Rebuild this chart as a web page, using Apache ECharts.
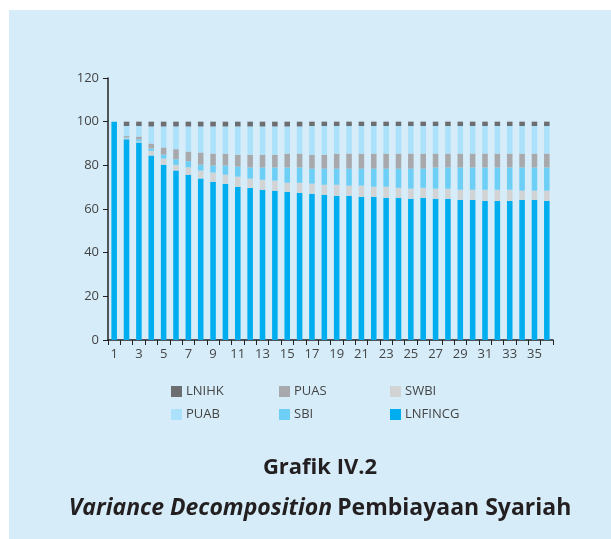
<!DOCTYPE html>
<html lang="id">
<head>
<meta charset="UTF-8">
<title>Grafik IV.2 - Variance Decomposition Pembiayaan Syariah</title>
<script src="https://cdn.jsdelivr.net/npm/echarts@6/dist/echarts.min.js"></script>
<style>
  html, body { margin: 0; padding: 0; background: #ffffff; }
  #panel { position: absolute; left: 9px; top: 10px; width: 602px; height: 529px; background: #d6edf9; }
  #main { position: absolute; left: 0; top: 0; width: 611px; height: 539px; }
</style>
</head>
<body>
<div id="panel"></div>
<div id="main"></div>
<script type="text/javascript">
// periode 1..36
const periods = Array.from({ length: 36 }, (_, i) => String(i + 1));

// share of each shock (%), stacked from bottom to top
const lnfincg = [100, 91.9, 90.5, 84.5, 80.3, 77.6, 75.7, 74.0, 72.5, 71.6, 70.2, 69.7, 68.8, 68.4, 67.9, 67.4,
  67.0, 66.5, 66.1, 66.1, 65.6, 65.6, 65.1, 65.1, 64.7, 65.1, 64.7, 64.7, 64.2, 64.2, 63.7, 63.7, 63.7, 64.2, 64.2, 63.7];
const swbi = [0, 0.4, 0.5, 2.1, 2.8, 2.6, 3.4, 3.6, 4.2, 4.1, 4.6, 4.2, 4.6, 4.6, 4.1, 4.6,
  4.6, 4.6, 5.0, 4.6, 5.1, 4.6, 5.1, 4.6, 4.6, 4.6, 4.6, 4.6, 4.6, 4.6, 5.1, 5.1, 5.1, 4.2, 4.2, 4.7];
const sbi = [0, 0.4, 0.9, 1.1, 1.8, 2.6, 2.8, 2.7, 3.2, 4.2, 4.6, 5.1, 5.6, 6.0, 7.0, 7.0,
  6.9, 7.4, 7.4, 7.8, 7.8, 8.3, 8.3, 8.8, 9.2, 8.8, 9.7, 9.7, 10.2, 10.2, 10.2, 10.2, 10.2, 10.6, 10.6, 10.6];
const puas = [0, 0.7, 1.3, 2.3, 3.3, 4.6, 4.4, 5.6, 5.5, 5.5, 5.5, 5.9, 5.9, 5.9, 6.4, 6.4,
  6.4, 6.4, 6.9, 6.9, 6.9, 6.9, 6.9, 6.9, 6.9, 6.9, 6.4, 6.4, 6.4, 6.4, 6.4, 6.4, 6.4, 6.4, 6.4, 6.4];
const puab = [0, 4.6, 4.8, 7.8, 9.6, 10.4, 11.5, 11.9, 12.4, 12.4, 12.9, 12.9, 12.9, 12.9, 12.4, 12.4,
  13.1, 13.1, 12.6, 12.6, 12.6, 12.6, 12.6, 12.6, 12.6, 12.6, 12.6, 12.6, 12.6, 12.6, 12.6, 12.6, 12.6, 12.6, 12.6, 12.6];
const lnihk = [0, 2.0, 2.0, 2.2, 2.2, 2.2, 2.2, 2.2, 2.2, 2.2, 2.2, 2.2, 2.2, 2.2, 2.2, 2.2,
  2.0, 2.0, 2.0, 2.0, 2.0, 2.0, 2.0, 2.0, 2.0, 2.0, 2.0, 2.0, 2.0, 2.0, 2.0, 2.0, 2.0, 2.0, 2.0, 2.0];

const colors = {
  LNIHK: '#6d6e71',
  PUAS: '#a7a9ac',
  SWBI: '#d1d3d4',
  PUAB: '#abe1fa',
  SBI: '#6dcff6',
  LNFINCG: '#00aeef'
};

const chart = echarts.init(document.getElementById('main'));

function bar(name, data) {
  return {
    name: name,
    type: 'bar',
    stack: 'vd',
    data: data,
    barWidth: '45%',
    itemStyle: { color: colors[name] },
    emphasis: { disabled: true }
  };
}

// one legend per entry so the columns line up like the original
const legendSpots = [
  ['LNIHK', 171, 385], ['PUAS', 279, 385], ['SWBI', 390, 385],
  ['PUAB', 171, 408], ['SBI', 279, 408], ['LNFINCG', 390, 408]
];
const legends = legendSpots.map(([n, x, y]) => ({
  data: [n],
  left: x,
  top: y,
  padding: 0,
  itemWidth: 11,
  itemHeight: 11,
  icon: 'rect',
  textStyle: { fontFamily: 'Open Sans', fontSize: 13, color: '#444', padding: [0, 0, 0, -1] },
  selectedMode: false
}));

const fnt = 'Open Sans';

chart.setOption({
  animation: false,
  title: [
    {
      text: 'Grafik IV.2',
      left: 315,
      textAlign: 'center',
      top: 452,
      textStyle: { fontFamily: fnt, fontSize: 22, fontWeight: 'bold', color: '#231f20' }
    },
    {
      text: '{i|Variance Decomposition} {b|Pembiayaan Syariah}',
      left: 315,
      textAlign: 'center',
      top: 492,
      textStyle: {
        rich: {
          i: { fontFamily: fnt, fontSize: 23, fontWeight: 'bold', fontStyle: 'italic', color: '#231f20' },
          b: { fontFamily: fnt, fontSize: 23, fontWeight: 'bold', color: '#231f20' }
        }
      }
    }
  ],
  legend: legends,
  grid: { left: 108, right: 58, top: 78, bottom: 199 },
  xAxis: {
    type: 'category',
    data: periods,
    axisLine: { lineStyle: { color: '#222', width: 1.5 } },
    axisTick: { show: true, interval: 0, length: 5, lineStyle: { color: '#222' } },
    axisLabel: { interval: 1, color: '#444', fontFamily: fnt, fontSize: 13, margin: 8 }
  },
  yAxis: {
    type: 'value',
    min: 0,
    max: 120,
    interval: 20,
    splitLine: { show: false },
    axisLine: { show: true, lineStyle: { color: '#222', width: 1.5 } },
    axisTick: { show: true, length: 5, lineStyle: { color: '#222' } },
    axisLabel: { color: '#444', fontFamily: fnt, fontSize: 13, margin: 9 }
  },
  series: [
    bar('LNFINCG', lnfincg),
    bar('SWBI', swbi),
    bar('SBI', sbi),
    bar('PUAS', puas),
    bar('PUAB', puab),
    bar('LNIHK', lnihk)
  ]
});
</script>
</body>
</html>
